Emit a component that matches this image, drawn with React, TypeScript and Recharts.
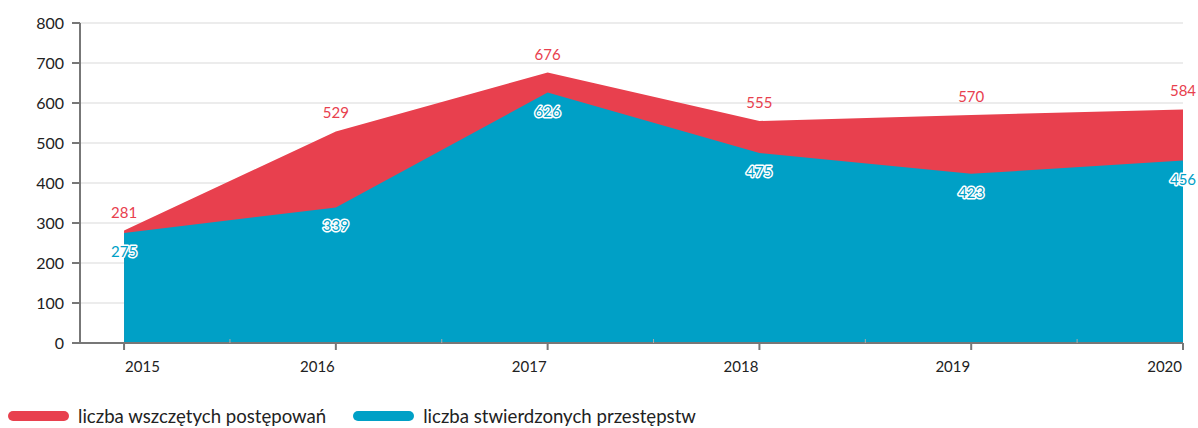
import React from "react";
import { AreaChart, Area, XAxis, YAxis, CartesianGrid, LabelList } from "recharts";

const years = [2015, 2016, 2017, 2018, 2019, 2020];
const wszczete = [281, 529, 676, 555, 570, 584];
const stwierdzone = [275, 339, 626, 475, 423, 456];
const yTicks = [0, 100, 200, 300, 400, 500, 600, 700, 800];
const seriesNames = ["liczba wszczętych postępowań", "liczba stwierdzonych przestępstw"];

const RED = "#e8404e";
const BLUE = "#00a0c6";
const FONT = "Lato, 'Open Sans', sans-serif";

const data = years.map((y, i) => ({ year: y, a: wszczete[i], b: stwierdzone[i] }));
const xTicks: number[] = [];
years.forEach((y, i) => {
  xTicks.push(y);
  if (i < years.length - 1) xTicks.push(y + 0.5);
});

const XTick = (props: any) => {
  const { x, y, payload } = props;
  const major = Number.isInteger(payload.value);
  // y from recharts is axis line + tickSize + tickMargin (~8px below the axis)
  const axisY = y - 8;
  if (!major) {
    return <line x1={x} x2={x} y1={axisY - 4} y2={axisY} stroke="#aaa" strokeWidth={1} />;
  }
  const first = payload.value === years[0];
  return (
    <g>
      <line x1={x} x2={x} y1={axisY} y2={axisY + 7} stroke="#777" strokeWidth={2} />
      <text
        x={first ? x + 1 : x - 1}
        y={axisY + 29}
        textAnchor={first ? "start" : "end"}
        fontSize={15}
        fill="#222"
        fontFamily={FONT}
      >
        {payload.value}
      </text>
    </g>
  );
};

const RedLabel = (props: any) => {
  const { x, y, value } = props;
  return (
    <text x={x} y={y - 13} textAnchor="middle" fontSize={15} fill={RED} fontFamily={FONT}>
      {value}
    </text>
  );
};

const BlueLabel = (props: any) => {
  const { x, y, value } = props;
  return (
    <text
      x={x}
      y={y + 24}
      textAnchor="middle"
      fontSize={15}
      fill={BLUE}
      stroke="#fff"
      strokeWidth={3}
      strokeLinejoin="round"
      paintOrder="stroke"
      fontFamily={FONT}
    >
      {value}
    </text>
  );
};

export default function App() {
  return (
    <div style={{ position: "absolute", left: 0, top: 0, width: 1198, height: 428, background: "#fff" }}>
      <AreaChart width={1198} height={428} data={data} margin={{ top: 23, right: 15, left: 0, bottom: 55 }}>
        <CartesianGrid vertical={false} stroke="#d9d9d9" strokeWidth={1} />
        <XAxis
          dataKey="year"
          type="number"
          domain={[2014.792, 2020]}
          ticks={xTicks}
          interval={0}
          axisLine={{ stroke: "#777", strokeWidth: 2 }}
          tickLine={false}
          tickSize={6}
          tickMargin={2}
          tick={<XTick />}
          height={30}
        />
        <YAxis
          width={80}
          domain={[0, 800]}
          ticks={yTicks}
          interval={0}
          axisLine={{ stroke: "#777", strokeWidth: 2 }}
          tickLine={{ stroke: "#777", strokeWidth: 2 }}
          tickSize={8}
          tick={{ fontSize: 16, fill: "#222", fontFamily: FONT, dx: -6 }}
        />
        <Area
          type="linear"
          dataKey="a"
          stroke="none"
          fill={RED}
          fillOpacity={1}
          isAnimationActive={false}
        >
          <LabelList dataKey="a" content={<RedLabel />} />
        </Area>
        <Area
          type="linear"
          dataKey="b"
          stroke="none"
          fill={BLUE}
          fillOpacity={1}
          isAnimationActive={false}
        >
          <LabelList dataKey="b" content={<BlueLabel />} />
        </Area>
      </AreaChart>
      <div
        style={{
          position: "absolute",
          left: 8,
          top: 405,
          display: "flex",
          alignItems: "center",
          fontFamily: FONT,
          fontSize: 18.6,
          color: "#222",
          whiteSpace: "nowrap",
        }}
      >
        <span style={{ display: "inline-block", width: 61, height: 10, borderRadius: 5, background: RED, marginRight: 9 }} />
        <span style={{ marginRight: 27 }}>{seriesNames[0]}</span>
        <span style={{ display: "inline-block", width: 61, height: 10, borderRadius: 5, background: BLUE, marginRight: 9 }} />
        <span>{seriesNames[1]}</span>
      </div>
    </div>
  );
}
